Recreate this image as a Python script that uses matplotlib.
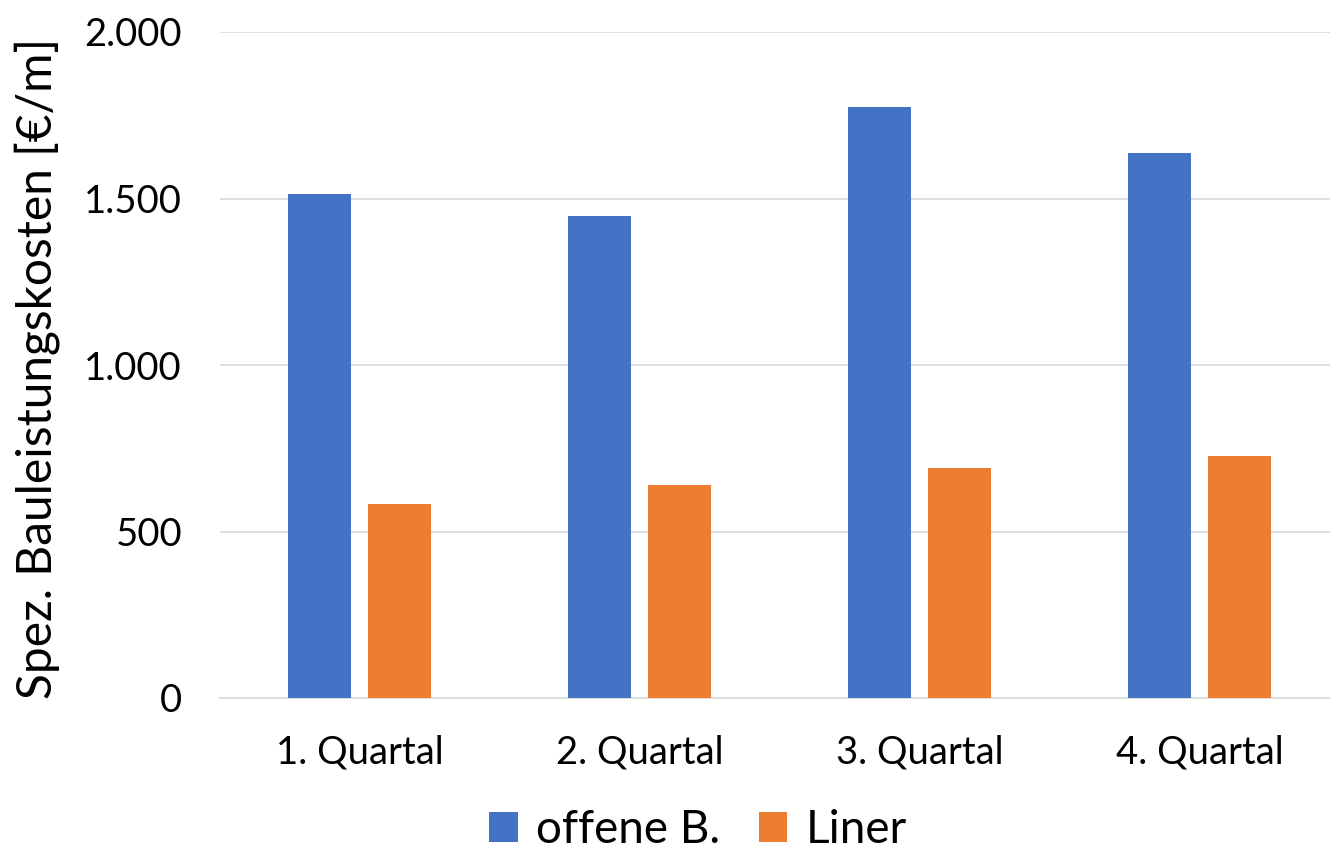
import matplotlib
matplotlib.use("Agg")
import matplotlib.pyplot as plt
import numpy as np
from matplotlib.ticker import FuncFormatter

categories = ["1. Quartal", "2. Quartal", "3. Quartal", "4. Quartal"]
offene = [1515, 1447, 1775, 1637]
liner = [582, 640, 691, 727]
series_names = ["offene B.", "Liner"]
yticks = [0, 500, 1000, 1500, 2000]

plt.rcParams['font.family'] = ['Lato', 'DejaVu Sans']

fig = plt.figure(figsize=(13.3, 8.49), dpi=100)
ax = fig.add_axes([219.5/1330, (849-698)/849, 1120/1330, (698-32)/849])

x = np.arange(len(categories))
w = 0.225
off = 0.144
ax.bar(x - off, offene, width=w, color="#4472C4", label=series_names[0], zorder=3)
ax.bar(x + off, liner, width=w, color="#ED7D31", label=series_names[1], zorder=3)

ax.set_xlim(-0.5, 3.5)
ax.set_ylim(0, 2000)
ax.set_yticks(yticks)
ax.yaxis.set_major_formatter(FuncFormatter(lambda v, p: f"{int(v):,}".replace(",", ".")))
ax.set_xticks(x)
ax.set_xticklabels(categories)
ax.tick_params(axis='both', length=0, labelsize=27.5, colors="#000000")
ax.tick_params(axis='y', pad=27)
ax.tick_params(axis='x', pad=26)
ax.grid(axis='y', color="#D9D9D9", linewidth=1.2, zorder=0)
for s in ["top", "right", "left"]:
    ax.spines[s].set_visible(False)
ax.spines["bottom"].set_color("#D9D9D9")
ax.spines["bottom"].set_linewidth(1.2)

ax.set_ylabel("Spez. Bauleistungskosten [€/m]", fontsize=34.5)
ax.yaxis.set_label_coords(-(219.5 - 60) / 1120, 0.5 - 3/666)

fig.legend(loc="center", bbox_to_anchor=(698/1330, 1 - 830/849), ncol=2, frameon=False,
           fontsize=33, handlelength=0.62, handleheight=0.62, handletextpad=0.4, columnspacing=0.85)

fig.savefig("out.png", dpi=100)
